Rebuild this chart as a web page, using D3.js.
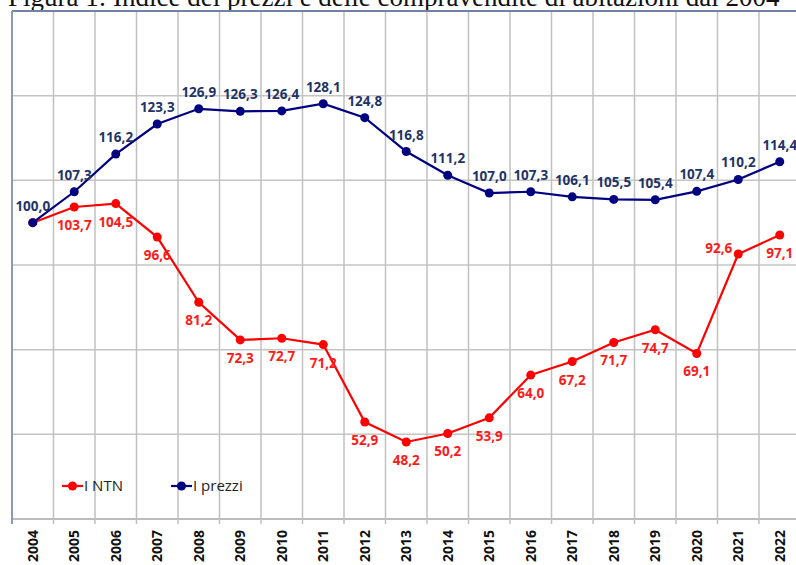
<!DOCTYPE html>
<html>
<head>
<meta charset="utf-8">
<script src="https://cdn.jsdelivr.net/npm/d3@7"></script>
<style>
  body { margin: 0; background: #fff; }
  svg { display: block; }
</style>
</head>
<body>
<div class="chart"></div>
<script>
// dati
const anni = ["2004","2005","2006","2007","2008","2009","2010","2011","2012","2013","2014","2015","2016","2017","2018","2019","2020","2021","2022"];
const prezzi = [100.0,107.3,116.2,123.3,126.9,126.3,126.4,128.1,124.8,116.8,111.2,107.0,107.3,106.1,105.5,105.4,107.4,110.2,114.4];
const ntn = [100.0,103.7,104.5,96.6,81.2,72.3,72.7,71.2,52.9,48.2,50.2,53.9,64.0,67.2,71.7,74.7,69.1,92.6,97.1];
const yTicks = [30,50,70,90,110,130,150];

const W = 796, H = 565;
const mLeft = 12, mTop = 11, mBottom = 519;
const bandW = 41.5;

const svg = d3.select(".chart")
  .append("svg")
  .attr("width", W)
  .attr("height", H);

const x = d3.scaleBand()
  .domain(anni)
  .range([mLeft, mLeft + bandW * anni.length]);

const y = d3.scaleLinear()
  .domain([30, 150])
  .range([mBottom, mTop]);

const cx = d => x(d) + x.bandwidth() / 2;

// titolo (tagliato in alto come nell'originale)
svg.append("text")
  .attr("x", 8)
  .attr("y", 6)
  .attr("font-family", "Liberation Serif, Times New Roman, serif")
  .attr("font-size", 27)
  .attr("fill", "#111")
  .text("Figura 1: Indice dei prezzi e delle compravendite di abitazioni dal 2004");

// griglia orizzontale
svg.selectAll(".hgrid")
  .data(yTicks.slice(0, -1))
  .enter()
  .append("line")
  .attr("x1", mLeft)
  .attr("x2", W)
  .attr("y1", d => y(d))
  .attr("y2", d => y(d))
  .attr("stroke", d => d === 30 ? "#a6a6a6" : "#c4c4c4")
  .attr("stroke-width", 1.5);

// griglia verticale (confini delle categorie)
svg.selectAll(".vgrid")
  .data(anni.slice(1))
  .enter()
  .append("line")
  .attr("x1", d => x(d))
  .attr("x2", d => x(d))
  .attr("y1", mTop)
  .attr("y2", mBottom + 5)
  .attr("stroke", "#c0c0c0")
  .attr("stroke-width", 1.5);

// bordo superiore e sinistro
svg.append("line")
  .attr("x1", mLeft).attr("x2", W)
  .attr("y1", y(150)).attr("y2", y(150))
  .attr("stroke", "#7083a3").attr("stroke-width", 2);
svg.append("line")
  .attr("x1", mLeft).attr("x2", mLeft)
  .attr("y1", mTop).attr("y2", mBottom + 5)
  .attr("stroke", "#8a9ab5").attr("stroke-width", 2);

// etichette asse x ruotate
svg.selectAll(".xlab")
  .data(anni)
  .enter()
  .append("text")
  .attr("transform", d => `translate(${cx(d) + 5},530) rotate(-90)`)
  .attr("text-anchor", "end")
  .attr("font-family", "Open Sans, sans-serif")
  .attr("font-weight", "bold")
  .attr("font-size", 14)
  .attr("fill", "#111")
  .text(d => d);

const serie = [
  { nome: "I prezzi", valori: prezzi, line: "#000080", lab: "#1f3466" },
  { nome: "I NTN", valori: ntn, line: "#ff0000", lab: "#ff1a1a" }
];

const linea = d3.line()
  .x((d, i) => cx(anni[i]))
  .y(d => y(d));

serie.slice().reverse().forEach(s => {
  svg.append("path")
    .datum(s.valori)
    .attr("d", linea)
    .attr("fill", "none")
    .attr("stroke", s.line)
    .attr("stroke-width", 2.2);

  svg.selectAll(null)
    .data(s.valori)
    .enter()
    .append("circle")
    .attr("cx", (d, i) => cx(anni[i]))
    .attr("cy", d => y(d))
    .attr("r", 4.5)
    .attr("fill", s.line);
});

const fmt = v => v.toFixed(1).replace(".", ",");

// etichette prezzi (sopra)
svg.selectAll(".labp")
  .data(prezzi)
  .enter()
  .append("text")
  .attr("x", (d, i) => cx(anni[i]))
  .attr("y", d => y(d) - 12)
  .attr("text-anchor", "middle")
  .attr("font-family", "Open Sans, sans-serif")
  .attr("font-weight", "bold")
  .attr("font-size", 13.5)
  .attr("fill", serie[0].lab)
  .text(d => fmt(d));

// etichette NTN (sotto), il 2004 coincide con i prezzi
const ntnLab = ntn.map((v, i) => ({ anno: anni[i], v: v })).slice(1);
svg.selectAll(".labn")
  .data(ntnLab)
  .enter()
  .append("text")
  .attr("x", d => d.anno === "2021" ? cx(d.anno) - 6 : cx(d.anno))
  .attr("y", d => d.anno === "2021" ? y(d.v) - 1 : y(d.v) + 23)
  .attr("text-anchor", d => d.anno === "2021" ? "end" : "middle")
  .attr("font-family", "Open Sans, sans-serif")
  .attr("font-weight", "bold")
  .attr("font-size", 13.5)
  .attr("fill", serie[1].lab)
  .text(d => fmt(d.v));

// legenda
const leg = [
  { nome: "I NTN", col: "#ff0000", x: 62 },
  { nome: "I prezzi", col: "#000080", x: 171 }
];
leg.forEach(l => {
  svg.append("line")
    .attr("x1", l.x).attr("x2", l.x + 21)
    .attr("y1", 486).attr("y2", 486)
    .attr("stroke", l.col).attr("stroke-width", 2.2);
  svg.append("circle")
    .attr("cx", l.x + 10.5).attr("cy", 486).attr("r", 4.5)
    .attr("fill", l.col);
  svg.append("text")
    .attr("x", l.x + 22).attr("y", 491)
    .attr("font-family", "Open Sans, sans-serif")
    .attr("font-size", 15)
    .attr("fill", "#222")
    .text(l.nome);
});
</script>
</body>
</html>
